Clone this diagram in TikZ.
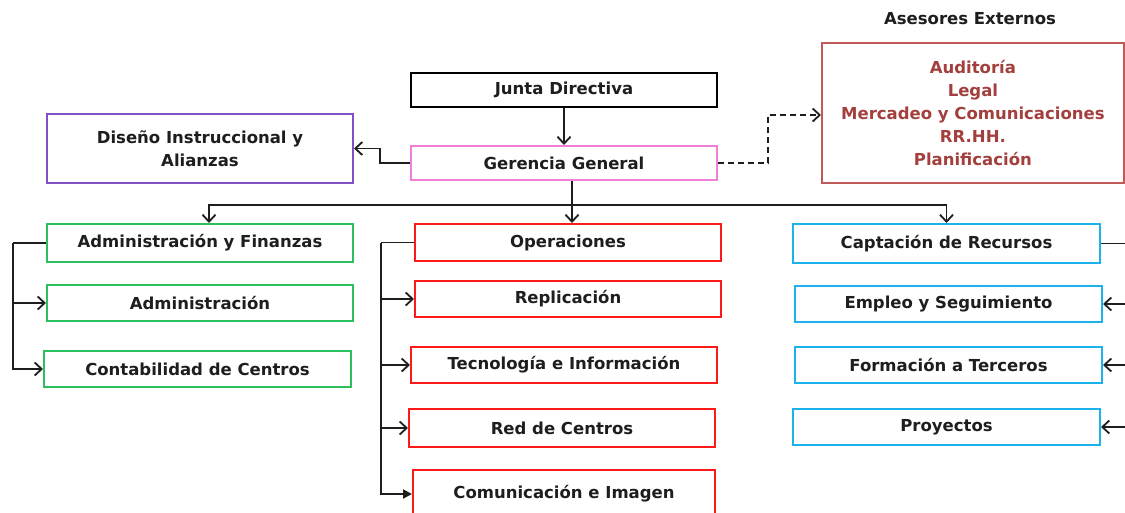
\documentclass[tikz,border=0pt]{standalone}
\usepackage{fontspec}
\setmainfont{DejaVu Sans}
\usetikzlibrary{arrows.meta,calc}
\definecolor{cpink}{HTML}{F07FD8}
\definecolor{cpurple}{HTML}{8150C2}
\definecolor{cgreen}{HTML}{2DBE5E}
\definecolor{cred}{HTML}{FF1A1A}
\definecolor{cblue}{HTML}{1CB2EC}
\definecolor{casb}{HTML}{C05A58}
\definecolor{cast}{HTML}{A3403E}
\definecolor{ctext}{HTML}{1E1E1E}
\tikzset{
  box/.style={draw, line width=2pt, inner sep=0pt, align=center, anchor=north west,
    text=ctext, font=\fontsize{16.5}{23}\selectfont\bfseries},
  conn/.style={line width=1.9pt, draw=ctext},
  arr/.style={conn, -{Straight Barb[length=7pt,width=13pt,line width=1.8pt]}},
  farr/.style={conn, -{Triangle[length=9pt,width=9pt]}},
}
\begin{document}
\begin{tikzpicture}[x=1pt,y=-1pt]
\useasboundingbox (0,0) rectangle (1125,512);
\fill[white] (0,0) rectangle (1125,512);
\clip (0,0) rectangle (1125,512);
% top
\node[box, minimum width=306, minimum height=34, draw=black] (jd) at (410,72) {Junta Directiva};
\node[box, minimum width=306, minimum height=34, draw=cpink] (gg) at (410,145) {Gerencia General};
\node[box, minimum width=306, minimum height=69, draw=cpurple] (dis) at (46,113) {Diseño Instruccional y\\Alianzas};
\node[text=ctext, font=\fontsize{16.5}{23}\selectfont\bfseries] (tit) at (970,19) {Asesores Externos};
\node[box, minimum width=302, minimum height=140, draw=casb, text=cast, line width=1.8pt] (ase) at (821,42)
  {Auditoría\\Legal\\Mercadeo y Comunicaciones\\RR.HH.\\Planificación};
% left column
\node[box, minimum width=306, minimum height=38, draw=cgreen] (af) at (46,223) {Administración y Finanzas};
\node[box, minimum width=306, minimum height=36, draw=cgreen] (adm) at (46,284) {Administración};
\node[box, minimum width=307, minimum height=36, draw=cgreen] (cont) at (43,350) {Contabilidad de Centros};
% middle column
\node[box, minimum width=306, minimum height=37, draw=cred] (op) at (414,223) {Operaciones};
\node[box, minimum width=306, minimum height=36, draw=cred] (rep) at (414,280) {Replicación};
\node[box, minimum width=306, minimum height=36, draw=cred] (tec) at (410,346) {Tecnología e Información};
\node[box, minimum width=306, minimum height=38, draw=cred] (red) at (408,408) {Red de Centros};
\node[box, minimum width=302, minimum height=48, draw=cred] (com) at (412,469) {Comunicación e Imagen};
% right column
\node[box, minimum width=307, minimum height=39, draw=cblue] (cap) at (792,223) {Captación de Recursos};
\node[box, minimum width=307, minimum height=36, draw=cblue] (emp) at (794,285) {Empleo y Seguimiento};
\node[box, minimum width=307, minimum height=36, draw=cblue] (for) at (794,346) {Formación a Terceros};
\node[box, minimum width=307, minimum height=36, draw=cblue] (pro) at (792,408) {Proyectos};
% connectors top
\draw[arr] (jd) -- (gg);
\draw[arr] (gg.west) -- ++(-30,0) |- (dis.east);
\coordinate (dk) at (768,115);
\draw[arr, dash pattern=on 6pt off 4pt] (gg.east) -| (dk) -- (dk -| ase.west);
% bus
\coordinate (g1) at ($(gg.south)+(8,0)$);
\coordinate (bus) at ($(g1)+(0,24)$);
\coordinate (afa) at ($(af.north)+(9,0)$);
\draw[arr] (g1) -- (g1 |- op.north);
\draw[arr] (bus) -| (afa);
\draw[arr] (bus) -| (cap.north);
% left bracket
\draw[conn] (af.west) -- ++(-33,0) coordinate (l1);
\draw[arr] (l1) |- (cont.west);
\draw[arr] (l1 |- adm.west) -- (adm.west);
% middle bracket
\draw[conn] (op.west) -- ++(-33,0) coordinate (m1);
\draw[farr] (m1) |- (com.west);
\draw[arr] (m1 |- rep.west) -- (rep.west);
\draw[arr] (m1 |- tec.west) -- (tec.west);
\draw[arr] (m1 |- red.west) -- (red.west);
% right bracket
\draw[conn] (cap.east) -- ++(32,0) coordinate (r1);
\draw[conn] (r1) -- (r1 |- pro.east);
\draw[arr] (r1 |- emp.east) -- (emp.east);
\draw[arr] (r1 |- for.east) -- (for.east);
\draw[arr] (r1 |- pro.east) -- (pro.east);
\end{tikzpicture}
\end{document}
